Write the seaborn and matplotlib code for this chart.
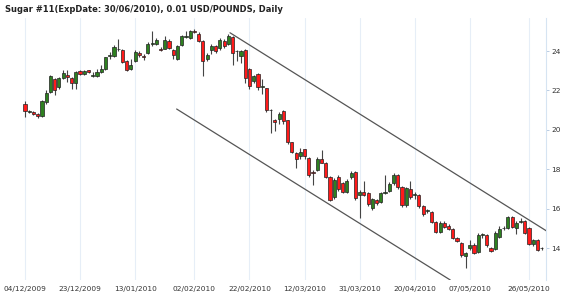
import numpy as np
import pandas as pd
import matplotlib
matplotlib.use("Agg")
import matplotlib.pyplot as plt
import seaborn as sns

# ---- data ----
opens = [21.3, 20.93, 20.93, 20.8, 20.7, 21.4, 21.9, 22.6, 22.16, 22.64,
         22.8, 22.64, 22.38, 23.0, 22.85, 23.02, 22.76, 22.74, 22.94, 23.1,
         23.74, 23.77, 24.1, 24.04, 23.48, 23.09, 23.5, 23.92, 23.72, 23.9,
         24.36, 24.38, 24.13, 24.13, 24.53, 24.08, 23.62, 24.33, 24.72, 24.67,
         25.04, 24.87, 24.5, 23.6, 24.08, 24.24, 24.16, 24.53, 24.36, 24.7,
         24.0, 23.74, 24.08, 23.1, 22.47, 22.85, 22.18, 22.13, 20.99, 20.48,
         20.55, 20.94, 20.48, 19.36, 18.85, 18.68, 19.02, 18.56, 17.85, 17.97,
         18.51, 18.31, 17.63, 16.61, 17.63, 17.29, 16.87, 17.6, 17.88, 16.7,
         16.87, 16.78, 16.02, 16.44, 16.36, 16.81, 16.92, 17.29, 17.71, 17.09,
         16.19, 16.99, 16.7, 16.7, 16.14, 15.9, 15.85, 15.34, 14.83, 15.29,
         15.12, 14.95, 14.49, 14.27, 13.59, 13.98, 14.15, 13.81, 14.66, 14.66,
         14.02, 13.93, 14.54, 15.0, 15.0, 15.59, 15.0, 15.34, 15.39, 15.0,
         14.2, 14.41, 13.98]
highs = [21.45, 21.0, 20.97, 20.85, 21.5, 22.0, 22.78, 22.65, 22.7, 23.05,
         23.05, 22.7, 23.0, 23.05, 23.05, 23.05, 22.95, 23.1, 23.3, 23.72,
         23.95, 24.3, 24.6, 24.1, 23.55, 23.6, 24.05, 24.0, 23.85, 24.45,
         25.0, 24.65, 24.2, 24.75, 24.6, 24.1, 24.3, 24.8, 25.0, 25.05,
         25.1, 24.95, 24.55, 23.9, 24.35, 24.3, 24.65, 24.6, 24.85, 24.75,
         24.05, 24.05, 24.1, 23.15, 22.8, 22.9, 22.6, 22.15, 21.05, 20.55,
         20.9, 21.0, 20.5, 19.4, 18.9, 19.1, 19.05, 18.6, 17.95, 18.6,
         19.0, 18.35, 17.65, 17.55, 17.7, 17.35, 17.5, 17.9, 17.9, 16.95,
         17.4, 16.85, 16.55, 16.5, 16.85, 17.7, 17.35, 17.8, 17.75, 17.15,
         17.1, 17.4, 16.85, 16.75, 16.2, 16.0, 15.9, 15.4, 15.35, 15.35,
         15.2, 15.0, 14.55, 14.3, 13.8, 14.4, 14.25, 14.75, 14.75, 14.7,
         14.05, 14.85, 15.1, 15.1, 15.65, 15.65, 15.4, 15.55, 15.45, 15.05,
         14.45, 14.45, 14.05]
lows = [20.65, 20.85, 20.75, 20.6, 20.65, 21.3, 21.85, 21.79, 22.1, 22.6,
        22.45, 22.1, 22.1, 22.8, 22.8, 22.9, 22.7, 22.7, 22.9, 23.05,
        23.6, 23.72, 24.0, 23.4, 23.0, 23.05, 23.45, 23.7, 23.55, 23.85,
        24.25, 24.3, 24.0, 24.1, 24.1, 23.6, 23.55, 24.25, 24.65, 24.6,
        24.9, 24.45, 22.72, 23.5, 23.85, 23.9, 24.05, 24.15, 24.3, 23.3,
        23.5, 23.4, 22.4, 22.1, 22.4, 22.05, 21.8, 20.9, 19.85, 19.95,
        20.3, 20.3, 19.3, 18.85, 18.05, 18.5, 18.5, 17.6, 17.2, 17.9,
        18.3, 17.55, 16.4, 16.5, 16.9, 16.8, 16.8, 17.5, 16.45, 15.53,
        16.65, 16.15, 15.95, 16.2, 16.3, 16.75, 16.85, 17.2, 17.0, 16.1,
        16.1, 16.5, 16.5, 16.05, 15.65, 15.8, 15.25, 14.75, 14.75, 15.0,
        14.9, 14.45, 14.3, 13.55, 12.97, 13.9, 13.7, 13.75, 14.5, 14.05,
        13.8, 13.9, 14.5, 14.9, 14.95, 15.0, 14.7, 15.25, 14.7, 14.15,
        14.1, 13.85, 13.9]
closes = [20.95, 20.95, 20.8, 20.72, 21.45, 21.87, 22.72, 22.0, 22.64, 22.88,
          22.69, 22.38, 22.94, 22.85, 23.0, 22.95, 22.8, 22.93, 23.1, 23.68,
          23.82, 24.22, 24.12, 23.43, 23.06, 23.3, 23.97, 23.79, 23.7, 24.36,
          24.38, 24.58, 24.08, 24.58, 24.16, 23.82, 24.24, 24.75, 24.75, 25.0,
          24.97, 24.5, 23.48, 23.82, 24.24, 24.0, 24.58, 24.24, 24.75, 23.9,
          23.99, 23.99, 22.64, 22.24, 22.72, 22.2, 22.18, 21.02, 20.99, 20.38,
          20.82, 20.43, 19.36, 18.9, 18.51, 18.9, 18.68, 17.71, 17.8, 18.51,
          18.34, 17.63, 16.44, 17.46, 16.99, 16.87, 17.42, 17.8, 16.53, 16.87,
          16.7, 16.24, 16.48, 16.3, 16.78, 16.81, 17.26, 17.71, 17.09, 16.19,
          17.04, 16.58, 16.7, 16.14, 15.73, 15.9, 15.34, 14.83, 15.26, 15.08,
          14.95, 14.49, 14.37, 13.64, 13.73, 14.15, 13.73, 14.66, 14.66, 14.15,
          13.86, 14.78, 14.95, 15.0, 15.59, 15.08, 15.26, 15.34, 14.75, 14.2,
          14.41, 13.9, 13.98]

tick_bars = [0, 13, 26, 40, 53, 66, 79, 92, 105, 119]
tick_labels = ["04/12/2009", "23/12/2009", "13/01/2010", "02/02/2010",
               "22/02/2010", "12/03/2010", "31/03/2010", "20/04/2010",
               "07/05/2010", "26/05/2010"]
y_ticks = [14, 16, 18, 20, 22, 24]

# channel lines (bar index, price)
upper_x = [48.4, 123.2]
upper_y = [24.93, 14.86]
lower_x = [35.8, 100.4]
lower_y = [21.06, 12.38]

title = "Sugar #11(ExpDate: 30/06/2010), 0.01 USD/POUNDS, Daily"

# ---- build frame ----
df = pd.DataFrame({"open": opens, "high": highs, "low": lows, "close": closes})
df["bar"] = np.arange(len(df))
df["up"] = df["close"] >= df["open"]

sns.set_style("white")
plt.rcParams["font.family"] = ["DejaVu Sans"]

fig = plt.figure(figsize=(5.7, 2.99), dpi=100)
ax = fig.add_axes([20 / 570, 1 - 280 / 299, (546 - 20) / 570, (280 - 18) / 299])

green = "#2e8020"
red = "#ff1a1a"

# wicks
ax.vlines(df["bar"], df["low"], df["high"], color="#444444", linewidth=0.8, zorder=2)

# bodies
bottoms = np.minimum(df["open"], df["close"])
heights = np.maximum(np.abs(df["close"] - df["open"]), 0.03)
colors = [green if u else red for u in df["up"]]
ax.bar(df["bar"], heights, bottom=bottoms, width=0.74, color=colors,
       edgecolor="#222222", linewidth=0.5, zorder=3)

# channel lines via seaborn
lines = pd.DataFrame({"x": upper_x + lower_x, "y": upper_y + lower_y,
                      "which": ["upper"] * 2 + ["lower"] * 2})
sns.lineplot(data=lines, x="x", y="y", units="which", estimator=None,
             color="#555555", linewidth=0.9, ax=ax, legend=False, zorder=4)

ax.set_xlim(-1.18, 123.0)
ax.set_ylim(12.38, 25.68)

ax.set_xticks(tick_bars)
ax.set_xticklabels(tick_labels)
ax.set_yticks(y_ticks)
ax.set_yticklabels([str(v) for v in y_ticks])
ax.yaxis.tick_right()
ax.tick_params(axis="y", length=2.5, width=0.6, color="#b0c4de", pad=1.5,
               labelsize=5.3, labelcolor="#333333")
ax.tick_params(axis="x", length=0, pad=4, labelsize=5.3, labelcolor="#333333")

ax.grid(axis="x", color="#e6eef7", linewidth=0.8)
ax.grid(axis="y", visible=False)
ax.set_axisbelow(True)
for side in ["left", "top", "bottom"]:
    ax.spines[side].set_visible(False)
ax.spines["right"].set_color("#d6e4f2")
ax.spines["right"].set_linewidth(0.8)
ax.set_xlabel("")
ax.set_ylabel("")

fig.text(5 / 570, 1 - 10 / 299, title, fontsize=6.0, fontweight="bold",
         color="#222222", va="center", ha="left")

fig.savefig("out.png", dpi=100)
